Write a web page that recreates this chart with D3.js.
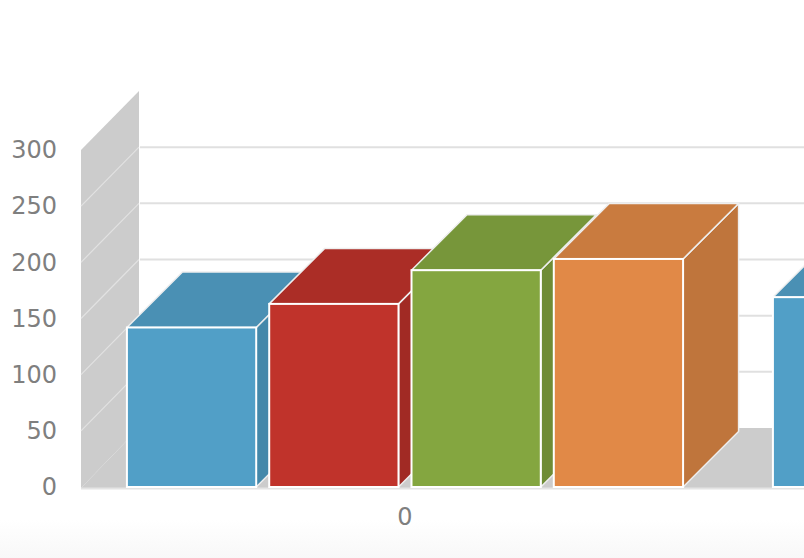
<!DOCTYPE html>
<html>
<head>
<meta charset="utf-8">
<script src="https://cdn.jsdelivr.net/npm/d3@7"></script>
<style>
html,body{margin:0;padding:0;background:#fff;overflow:hidden;}
svg{display:block;}
</style>
</head>
<body>
<svg id="chart" width="804" height="558"></svg>
<script>
// ---- data ----
const categories = ["0", "1"];
const seriesNames = ["Series 1", "Series 2", "Series 3", "Series 4"];
const series1 = [142, 169];
const series2 = [163, null];
const series3 = [193, null];
const series4 = [203, null];
const yTicks = [0, 50, 100, 150, 200, 250, 300];

const allSeries = [series1, series2, series3, series4];
const frontColors = ["#519fc7", "#c0332b", "#84a640", "#e18947"];
const topColors   = ["#4a90b4", "#ab2d26", "#77963a", "#c97b3f"];
const sideColors  = ["#4488aa", "#a12a24", "#6f8c36", "#bf753c"];

const W = 804, H = 558;
const svg = d3.select("#chart");

// projection offsets
const frame = {dx: 58, dy: -59};
const barD = {dx: 55.5, dy: -55.5};

const plotLeft = 81;
const y = d3.scaleLinear().domain([0, 300]).range([487, 150]);
const catW = 646;
const xCat = d3.scaleBand().domain(categories).range([82, 82 + catW * categories.length]).padding(0);
const xSer = d3.scaleBand().domain(seriesNames).range([0, catW]).paddingInner(0.0914).paddingOuter(0.3157);

// faint bottom shading
const defs = svg.append("defs");
const grad = defs.append("linearGradient").attr("id", "btm").attr("x1", 0).attr("y1", 0).attr("x2", 0).attr("y2", 1);
grad.append("stop").attr("offset", "0%").attr("stop-color", "#ffffff");
grad.append("stop").attr("offset", "100%").attr("stop-color", "#f8f8f8");
svg.append("rect").attr("x", 0).attr("y", 520).attr("width", W).attr("height", H - 520).attr("fill", "url(#btm)");

// back wall gridlines
const gridG = svg.append("g");
gridG.selectAll("line.grid").data(yTicks.filter(v => v > 0 && v < 300)).join("line")
  .attr("x1", plotLeft + frame.dx + 1).attr("x2", W + 5)
  .attr("y1", d => y(d) + frame.dy).attr("y2", d => y(d) + frame.dy)
  .attr("stroke", "#e0e0e0").attr("stroke-width", 2);

// side wall
const y0 = y(0), yTop = y(300);
svg.append("path")
  .attr("d", d3.line()([
    [plotLeft, yTop], [plotLeft + frame.dx, yTop + frame.dy],
    [plotLeft + frame.dx, y0 + frame.dy], [plotLeft, y0 + 1]
  ]) + "Z")
  .attr("fill", "#cccccc");
// floor
svg.append("path")
  .attr("d", d3.line()([
    [plotLeft, y0 + 1], [plotLeft + frame.dx, y0 + frame.dy],
    [W + 5, y0 + frame.dy], [W + 5, y0 + 1]
  ]) + "Z")
  .attr("fill", "#cccccc");
// side wall diagonal gridlines
svg.append("g").selectAll("line").data(yTicks.filter(v => v > 0 && v < 300)).join("line")
  .attr("x1", plotLeft).attr("y1", d => y(d))
  .attr("x2", plotLeft + frame.dx).attr("y2", d => y(d) + frame.dy)
  .attr("stroke", "#e2e2e2").attr("stroke-width", 1.2);

// front baseline
svg.append("line").attr("x1", plotLeft).attr("x2", W + 5)
  .attr("y1", y0 + 1.5).attr("y2", y0 + 1.5)
  .attr("stroke", "#e4e4e4").attr("stroke-width", 2);

// bars, left to right
const bars = [];
categories.forEach((c, ci) => {
  seriesNames.forEach((s, si) => {
    const v = allSeries[si][ci];
    if (v == null) return;
    bars.push({x0: xCat(c) + xSer(s), w: xSer.bandwidth(), v, si});
  });
});
bars.sort((a, b) => a.x0 - b.x0);

const barG = svg.append("g");
bars.forEach(b => {
  const g = barG.append("g");
  const xl = b.x0, xr = b.x0 + b.w, yt = y(b.v), yb = y(0);
  const dx = barD.dx, dy = barD.dy;
  g.append("path")
    .attr("d", d3.line()([[xr, yt], [xr + dx, yt + dy], [xr + dx, yb + dy], [xr, yb]]) + "Z")
    .attr("fill", sideColors[b.si]).attr("stroke", "#eeeeee").attr("stroke-width", 1.5).attr("stroke-linejoin", "round");
  g.append("path")
    .attr("d", d3.line()([[xl, yt], [xl + dx, yt + dy], [xr + dx, yt + dy], [xr, yt]]) + "Z")
    .attr("fill", topColors[b.si]).attr("stroke", "#eeeeee").attr("stroke-width", 1.5).attr("stroke-linejoin", "round");
  g.append("rect")
    .attr("x", xl).attr("y", yt).attr("width", b.w).attr("height", yb - yt)
    .attr("fill", frontColors[b.si]).attr("stroke", "#ffffff").attr("stroke-width", 2);
});

// y axis labels
const yAxis = d3.axisLeft(y).tickValues(yTicks).tickSize(0).tickPadding(24);
const yg = svg.append("g").attr("transform", `translate(${plotLeft},0)`).call(yAxis);
yg.select(".domain").remove();
yg.selectAll("text").attr("font-family", "DejaVu Sans").attr("font-size", 24).attr("fill", "#7f7f7f");

// x axis labels (only categories whose centre lies inside the view)
const visibleCats = categories.filter(c => xCat(c) + xCat.bandwidth() / 2 < W);
const xAxis = d3.axisBottom(xCat).tickValues(visibleCats).tickSize(0).tickPadding(21);
const xg = svg.append("g").attr("transform", `translate(0,${y0})`).call(xAxis);
xg.select(".domain").remove();
xg.selectAll("text").attr("font-family", "DejaVu Sans").attr("font-size", 24).attr("fill", "#7f7f7f");
</script>
</body>
</html>
